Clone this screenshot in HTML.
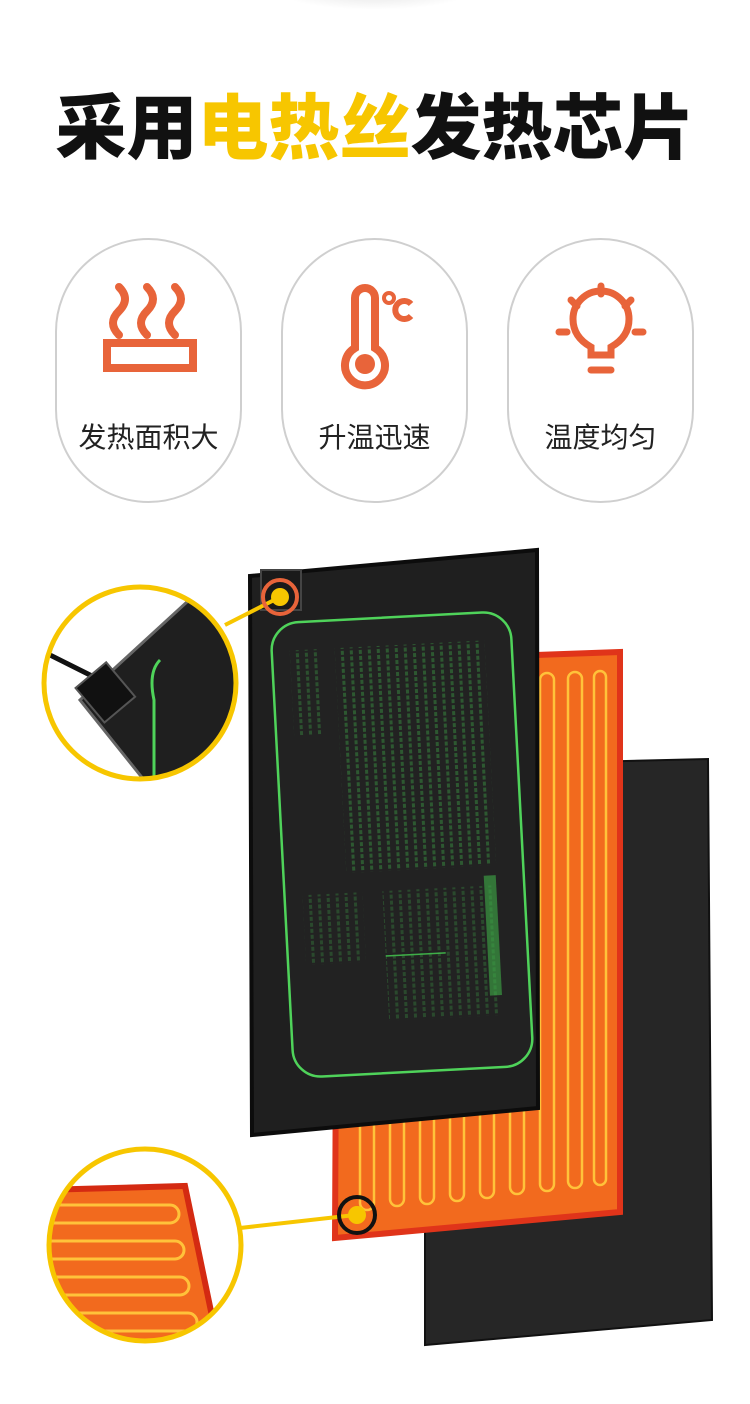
<!DOCTYPE html>
<html><head><meta charset="utf-8"><style>
html,body{margin:0;padding:0;background:#fff;}
body{width:750px;height:1404px;position:relative;overflow:hidden;font-family:"Liberation Sans","Noto Sans CJK SC",sans-serif;}
.title{position:absolute;top:88px;left:0;width:750px;text-align:center;font-size:71px;font-weight:900;color:#111;line-height:84px;}
.title span{color:#F7C600;}
.card{position:absolute;top:238px;width:187px;height:265px;border:2px solid #cfcfcf;border-radius:94px;box-sizing:border-box;}
.card .lab{position:absolute;top:176px;left:0;width:100%;text-align:center;font-size:28px;color:#222;}
.card svg{position:absolute;left:0;top:0;}
.shadow{position:absolute;left:275px;top:-30px;width:200px;height:40px;border-radius:50%;background:radial-gradient(#e2e2e2,#fff 70%);}
</style></head><body>
<div class="shadow"></div>
<div class="title">采用<span>电热丝</span>发热芯片</div>

<div class="card" style="left:55px">
<svg width="185" height="160" viewBox="0 0 185 160">
<g fill="none" stroke="#E8643A" stroke-width="8" stroke-linecap="round">
<path d="M62 95 q-12 -12 0 -24 q12 -12 0 -24"/>
<path d="M90 95 q-12 -12 0 -24 q12 -12 0 -24"/>
<path d="M118 95 q-12 -12 0 -24 q12 -12 0 -24"/>
</g>
<rect x="50" y="103" width="86" height="25" fill="none" stroke="#E8643A" stroke-width="8"/>
</svg>
<div class="lab">发热面积大</div></div>

<div class="card" style="left:281px">
<svg width="185" height="160" viewBox="0 0 185 160">
<path d="M72 58 a10 10 0 0 1 20 0 v50 a20 20 0 1 1 -20 0z" fill="none" stroke="#E8643A" stroke-width="8"/>
<circle cx="82" cy="124" r="10" fill="#E8643A"/>
<circle cx="106" cy="58" r="5" fill="none" stroke="#E8643A" stroke-width="4"/>
<path d="M128 64 a9 9 0 1 0 0 12" fill="none" stroke="#E8643A" stroke-width="6"/>
</svg>
<div class="lab">升温迅速</div></div>

<div class="card" style="left:507px">
<svg width="185" height="160" viewBox="0 0 185 160">
<g stroke="#E8643A" stroke-width="7" stroke-linecap="round" fill="none">
<path d="M82 115 v-8 q-18 -10 -18 -28 a28 28 0 0 1 56 0 q0 18 -18 28 v8z"/>
<line x1="82" y1="130" x2="102" y2="130"/>
<line x1="92" y1="46" x2="92" y2="54"/>
<line x1="62" y1="60" x2="68" y2="66"/>
<line x1="122" y1="60" x2="116" y2="66"/>
<line x1="50" y1="92" x2="58" y2="92"/>
<line x1="126" y1="92" x2="134" y2="92"/>
</g>
</svg>
<div class="lab">温度均匀</div></div>

<svg style="position:absolute;left:0;top:0" width="750" height="1404" viewBox="0 0 750 1404">
<defs>
<clipPath id="c1"><circle cx="140" cy="683" r="96"/></clipPath>
<clipPath id="c2"><circle cx="145" cy="1245" r="96"/></clipPath>
<clipPath id="om"><polygon points="338,662 620,652 620,1212 335,1238"/></clipPath>
<pattern id="txt" width="9" height="6" patternUnits="userSpaceOnUse">
<rect x="0" y="0" width="3" height="4" fill="#3fae48" opacity="0.55"/>
</pattern>
</defs>
<!-- back dark mat -->
<polygon points="425,766 708,759 712,1320 425,1345" fill="#262626" stroke="#111" stroke-width="2"/>
<!-- orange mat -->
<polygon points="338,662 620,652 620,1212 335,1238" fill="#F26A1E" stroke="#E0341A" stroke-width="6"/>
<g fill="none" stroke="#FFC23A" stroke-width="2.5" clip-path="url(#om)">
<rect x="360" y="680" width="14" height="530" rx="7"/>
<rect x="390" y="678" width="14" height="528" rx="7"/>
<rect x="420" y="677" width="14" height="527" rx="7"/>
<rect x="450" y="676" width="14" height="525" rx="7"/>
<rect x="480" y="675" width="14" height="523" rx="7"/>
<rect x="510" y="674" width="14" height="520" rx="7"/>
<rect x="540" y="673" width="14" height="518" rx="7"/>
<rect x="568" y="672" width="14" height="516" rx="7"/>
<rect x="594" y="671" width="12" height="514" rx="6"/>
</g>
<!-- front black mat -->
<polygon points="250,576 537,550 538,1108 252,1135" fill="#1f1f1f" stroke="#0c0c0c" stroke-width="4"/>
<g transform="rotate(-3 402 845)">
<rect x="282" y="617" width="240" height="455" rx="28" fill="#222" stroke="#4fd35a" stroke-width="2.5"/>
<rect x="300" y="645" width="30" height="85" fill="url(#txt)" opacity="0.6"/>
<rect x="345" y="645" width="150" height="225" fill="url(#txt)" opacity="0.7"/>
<rect x="300" y="890" width="60" height="70" fill="url(#txt)" opacity="0.5"/>
<rect x="380" y="890" width="110" height="130" fill="url(#txt)" opacity="0.5"/>
<rect x="482" y="880" width="12" height="120" fill="#3fae48" opacity="0.6"/>
<line x1="380" y1="955" x2="440" y2="955" stroke="#3fae48" stroke-width="1.5"/>
</g>
<rect x="261" y="570" width="40" height="40" fill="#1a1a1a" stroke="#444" stroke-width="2"/>
<!-- connectors -->
<line x1="225" y1="625" x2="280" y2="597" stroke="#F7C600" stroke-width="4"/>
<circle cx="280" cy="597" r="17" fill="none" stroke="#E8643A" stroke-width="4"/>
<circle cx="280" cy="597" r="9" fill="#F7C600"/>
<line x1="240" y1="1228" x2="355" y2="1215" stroke="#F7C600" stroke-width="4"/>
<circle cx="357" cy="1215" r="18" fill="none" stroke="#111" stroke-width="4"/>
<circle cx="357" cy="1215" r="9" fill="#F7C600"/>
<!-- zoom circle 1 -->
<g clip-path="url(#c1)">
<rect x="40" y="580" width="200" height="210" fill="#fff"/>
<polygon points="80,700 200,590 260,590 260,800 160,800" fill="#1f1f1f" stroke="#666" stroke-width="3"/>
<path d="M160 660 q-12 12 -6 40 v100" fill="none" stroke="#4fd35a" stroke-width="3"/>
<path d="M40 650 l60 30" stroke="#111" stroke-width="5"/>
<rect x="85" y="670" width="40" height="45" fill="#111" stroke="#555" stroke-width="2" transform="rotate(-40 105 692)"/>
</g>
<circle cx="140" cy="683" r="96" fill="none" stroke="#F7C600" stroke-width="5"/>
<!-- zoom circle 2 -->
<g clip-path="url(#c2)">
<rect x="45" y="1145" width="200" height="200" fill="#fff"/>
<polygon points="40,1190 185,1186 218,1345 40,1345" fill="#F26A1E" stroke="#D42A12" stroke-width="6"/>
<g fill="none" stroke="#FFC23A" stroke-width="3">
<path d="M40 1205 h130 a9 9 0 0 1 0 18 h-130"/>
<path d="M40 1241 h135 a9 9 0 0 1 0 18 h-135"/>
<path d="M40 1277 h140 a9 9 0 0 1 0 18 h-140"/>
<path d="M40 1313 h148 a9 9 0 0 1 0 18 h-148"/>
</g>
</g>
<circle cx="145" cy="1245" r="96" fill="none" stroke="#F7C600" stroke-width="5"/>
</svg>
</body></html>
